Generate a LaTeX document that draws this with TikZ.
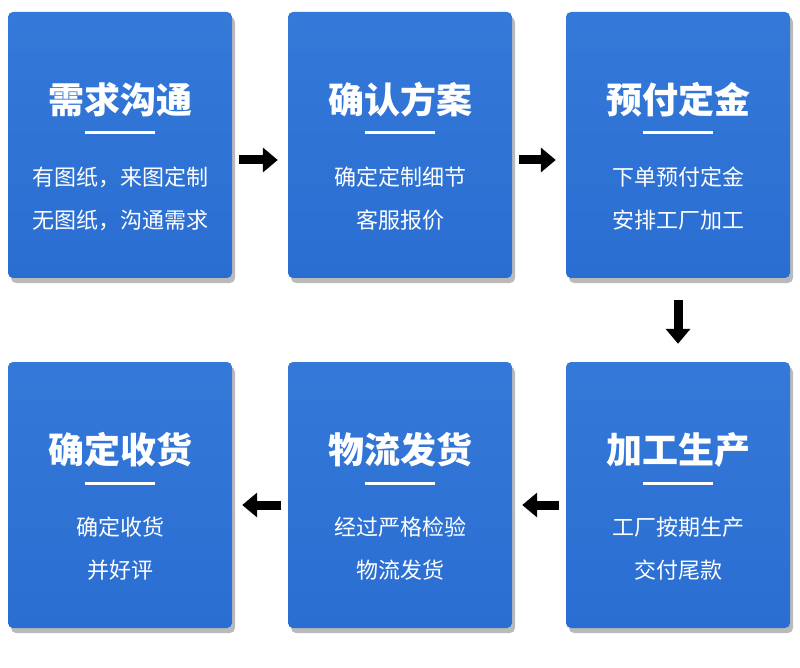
\documentclass[tikz,border=0pt]{standalone}
\usepackage{fontspec}
\newfontfamily\cjk{Noto Sans CJK SC}
\usetikzlibrary{arrows.meta,shadows}
\definecolor{boxblue}{HTML}{2A6ED2}
\definecolor{boxtop}{HTML}{3478D8}
\tikzset{
 card/.style={rounded corners=5pt, minimum width=224pt, minimum height=266pt, inner sep=0pt,
   top color=boxtop, bottom color=boxblue, draw=none,
   drop shadow={shadow xshift=3pt, shadow yshift=-5pt, fill=black!45, opacity=0.6}},
 ttl/.style={text=white, font=\cjk\bfseries\fontsize{36}{40}\selectfont},
 bdy/.style={text=white, font=\cjk\fontsize{22}{26}\selectfont},
 uline/.style={white, line width=3pt},
 flow/.style={line width=9pt, -{Triangle[length=15pt,width=24pt]}},
}
\begin{document}
\begin{tikzpicture}[x=1pt,y=-1pt]
\useasboundingbox (0,0) rectangle (800,668);
\def\card#1#2#3#4#5#6{%
 \node[card] (#1) at (#2,#3) {};
 \node[ttl] (#1t) at (#2,#3-45) {#4};
 \draw[uline] (#2-35,#3-12) -- (#2+35,#3-12);
 \node[bdy] (#1a) at (#2,#3+32) {#5};
 \node[bdy] (#1b) at (#2,#3+75) {#6};}
\card{b1}{120}{145}{需求沟通}{有图纸，来图定制}{无图纸，沟通需求}
\card{b2}{400}{145}{确认方案}{确定定制细节}{客服报价}
\card{b3}{678}{145}{预付定金}{下单预付定金}{安排工厂加工}
\card{b4}{120}{495}{确定收货}{确定收货}{并好评}
\card{b5}{400}{495}{物流发货}{经过严格检验}{物流发货}
\card{b6}{678}{495}{加工生产}{工厂按期生产}{交付尾款}
\draw[flow, shorten <=7pt, shorten >=10pt] (b1.east|-0,160) -- (b2.west|-0,160);
\draw[flow, shorten <=7pt, shorten >=10pt] (b2.east|-0,160) -- (b3.west|-0,160);
\draw[flow, shorten <=22pt, shorten >=18pt] (b3.south) -- (b6.north);
\draw[flow, shorten <=7pt, shorten >=10pt] (b6.west|-0,505) -- (b5.east|-0,505);
\draw[flow, shorten <=7pt, shorten >=10pt] (b5.west|-0,505) -- (b4.east|-0,505);
\end{tikzpicture}
\end{document}
